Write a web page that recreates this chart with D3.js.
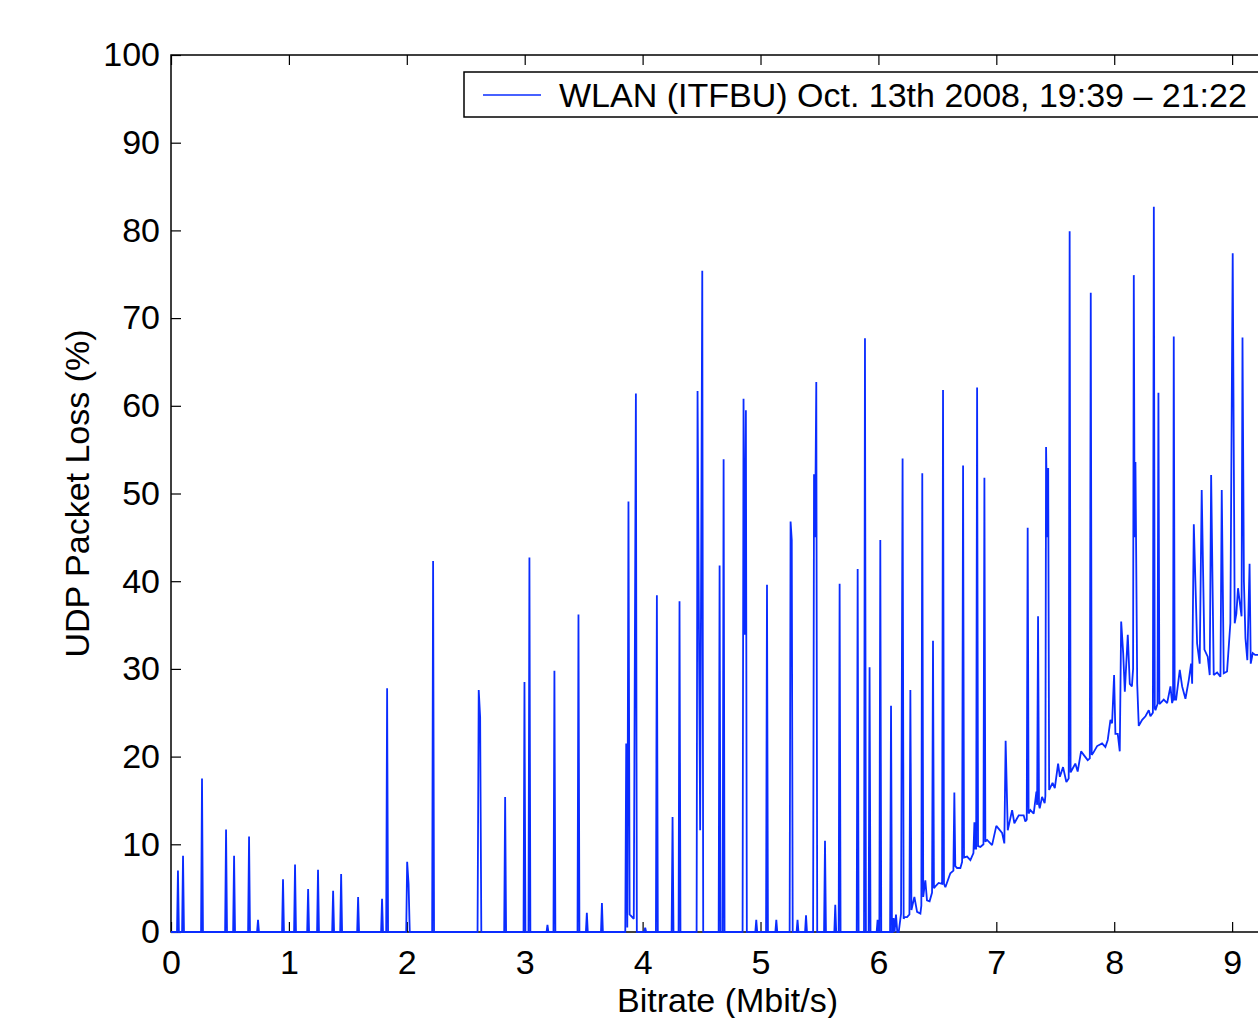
<!DOCTYPE html>
<html lang="en">
<head>
<meta charset="utf-8" />
<title>UDP Packet Loss vs Bitrate – WLAN (ITFBU)</title>
<style>
  body{margin:0;background:#fff;}
  svg{display:block;font-family:"Liberation Sans",Arial,Helvetica,sans-serif;}
  .tick text{font-size:34px;fill:#000;}
  .tick line{stroke:#000;stroke-width:1.2;}
  .axis-title{font-size:34px;fill:#000;}
  .legend-text{font-size:34px;fill:#000;}
</style>
<script src="https://cdn.jsdelivr.net/npm/d3@7.9.0/dist/d3.min.js"></script>
</head>
<body>
<div id="chart"></div>
<script>
/* ───────── DATA ───────── */
const xTicks = [0,1,2,3,4,5,6,7,8,9];
const yTicks = [0,10,20,30,40,50,60,70,80,90,100];
const xTitle = 'Bitrate (Mbit/s)';
const yTitle = 'UDP Packet Loss (%)';
const seriesLabel = 'WLAN (ITFBU) Oct. 13th 2008, 19:39 \u2013 21:22';

// [bitrate Mbit/s, packet loss %]
const trace = [
  [0,0],
  [0.051,0],[0.059,7.0],[0.067,0],
  [0.094,0],[0.102,8.7],[0.110,0],
  [0.255,0],[0.263,17.5],[0.271,0],
  [0.459,0],[0.467,11.7],[0.475,0],
  [0.527,0],[0.535,8.7],[0.543,0],
  [0.654,0],[0.662,10.9],[0.670,0],
  [0.730,0],[0.738,1.4],[0.746,0],
  [0.942,0],[0.950,6.0],[0.958,0],
  [1.044,0],[1.052,7.7],[1.060,0],
  [1.155,0],[1.163,4.9],[1.171,0],
  [1.239,0],[1.247,7.1],[1.255,0],
  [1.367,0],[1.375,4.7],[1.383,0],
  [1.435,0],[1.443,6.6],[1.451,0],
  [1.579,0],[1.587,4.0],[1.595,0],
  [1.782,0],[1.790,3.8],[1.798,0],
  [1.825,0],[1.833,27.8],[1.841,0],
  [1.995,0],[2.003,8.0],[2.015,5.5],[2.025,0],
  [2.215,0],[2.223,42.3],[2.231,0],
  [2.600,0],[2.610,27.6],[2.622,24.5],[2.632,0],
  [2.826,0],[2.834,15.4],[2.842,0],
  [2.990,0],[2.998,28.5],[3.006,0],
  [3.032,0],[3.040,42.7],[3.048,0],
  [3.185,0],[3.193,0.8],[3.201,0],
  [3.244,0],[3.252,29.8],[3.260,0],
  [3.448,0],[3.456,36.2],[3.464,0],
  [3.519,0],[3.527,2.2],[3.535,0],
  [3.647,0],[3.655,3.3],[3.663,0],
  [3.853,0],[3.861,21.5],[3.870,0.5],[3.880,49.1],[3.890,2.0],[3.925,1.5],[3.943,61.4],[3.951,0],
  [4.014,0],[4.022,0.5],[4.030,0],
  [4.113,0],[4.121,38.4],[4.129,0],
  [4.246,0],[4.254,13.1],[4.262,0],
  [4.305,0],[4.313,37.7],[4.321,0],
  [4.458,0],[4.466,61.7],[4.488,11.6],[4.506,75.4],[4.514,0],
  [4.645,0],[4.653,41.8],[4.661,0],
  [4.679,0],[4.687,53.9],[4.695,0],
  [4.848,0],[4.856,60.8],[4.865,33.9],[4.876,59.5],[4.884,0],
  [4.956,0],[4.964,1.4],[4.972,0],
  [5.047,0],[5.055,39.6],[5.063,0],
  [5.126,0],[5.134,1.4],[5.142,0],
  [5.247,0],[5.255,46.8],[5.265,44.7],[5.273,0],
  [5.306,0],[5.314,1.4],[5.322,0],
  [5.378,0],[5.386,1.9],[5.394,0],
  [5.446,0],[5.454,52.2],[5.463,45.0],[5.473,62.7],[5.481,0],
  [5.539,0],[5.547,10.4],[5.555,0],
  [5.626,0],[5.634,3.1],[5.642,0],
  [5.663,0],[5.671,39.7],[5.679,0],
  [5.816,0],[5.824,41.4],[5.832,0],
  [5.878,0],[5.886,67.7],[5.894,0],
  [5.917,0],[5.925,30.2],[5.933,0],
  [5.985,0],[5.993,1.4],[6.001,0],
  [6.008,0],[6.016,44.7],[6.024,0],
  [6.099,0],[6.107,25.8],[6.115,0],
  [6.121,0],[6.129,1.6],[6.137,0],[6.149,2.0],[6.160,0],
  [6.172,0],[6.192,2.1],[6.205,54.0],[6.214,1.5],[6.221,1.7],[6.243,1.7],[6.263,2.0],
  [6.271,27.6],[6.280,2.5],[6.305,4.0],[6.328,2.3],[6.356,2.1],[6.364,3.0],[6.372,52.3],
  [6.380,4.0],[6.398,5.9],[6.412,3.6],[6.434,3.5],[6.455,4.5],[6.463,33.2],[6.471,5.0],
  [6.483,5.2],[6.511,5.6],[6.540,5.5],[6.548,61.8],[6.556,5.5],[6.568,5.1],[6.610,6.7],
  [6.636,7.0],[6.644,15.9],[6.652,7.5],[6.667,7.3],[6.695,7.3],[6.710,8.0],[6.718,53.2],
  [6.726,8.5],[6.752,8.6],[6.780,8.2],[6.806,9.0],[6.814,12.5],[6.822,9.5],[6.829,9.5],
  [6.837,62.1],[6.845,9.8],[6.865,9.7],[6.891,10.0],[6.899,51.8],[6.907,10.3],[6.922,10.5],
  [6.964,9.9],[7.000,12.1],[7.049,11.3],[7.068,10.1],[7.079,21.8],[7.097,11.6],[7.134,13.9],
  [7.153,12.4],[7.190,13.3],[7.232,13.3],[7.246,12.6],[7.258,12.8],[7.266,46.1],[7.274,13.5],
  [7.289,13.9],[7.317,13.5],[7.340,16.0],[7.346,14.5],[7.354,36.0],[7.362,14.5],[7.368,14.1],
  [7.388,15.4],[7.410,14.7],[7.416,15.5],[7.422,55.3],[7.433,45.0],[7.440,52.9],[7.448,16.2],
  [7.477,17.0],[7.496,16.4],[7.524,19.2],[7.539,17.7],[7.566,18.8],[7.594,17.1],[7.614,17.5],
  [7.622,79.9],[7.630,18.2],[7.642,18.5],[7.670,19.2],[7.690,18.3],[7.719,20.6],[7.741,20.2],
  [7.775,19.6],[7.793,19.8],[7.801,72.9],[7.809,20.2],[7.821,20.4],[7.855,21.2],[7.897,21.5],
  [7.925,21.1],[7.945,21.9],[7.968,24.2],[7.982,23.8],[7.999,29.3],[8.010,22.6],[8.030,22.6],
  [8.047,20.6],[8.059,35.4],[8.076,31.8],[8.090,27.4],[8.115,33.9],[8.132,28.3],[8.150,28.0],
  [8.160,30.0],[8.166,74.9],[8.173,45.0],[8.180,53.6],[8.195,28.3],[8.208,23.5],[8.237,24.2],
  [8.265,24.6],[8.293,25.3],[8.307,24.6],[8.328,25.0],[8.336,82.7],[8.344,25.5],[8.350,25.3],
  [8.367,26.0],[8.375,61.5],[8.383,26.0],[8.392,26.1],[8.420,26.5],[8.449,26.1],[8.477,28.0],
  [8.491,26.1],[8.499,26.5],[8.505,67.9],[8.513,26.5],[8.525,26.5],[8.556,29.9],[8.576,28.0],
  [8.604,26.6],[8.632,28.7],[8.652,30.6],[8.661,28.3],[8.675,46.5],[8.703,32.9],[8.725,30.6],
  [8.742,50.4],[8.765,32.2],[8.793,31.4],[8.810,29.3],[8.822,52.1],[8.844,29.3],[8.873,29.6],
  [8.901,29.1],[8.912,50.4],[8.929,29.5],[8.957,29.7],[8.985,35.2],[9.005,77.4],[9.022,35.2],
  [9.036,36.3],[9.050,39.2],[9.062,37.9],[9.080,36.0],[9.088,67.8],[9.100,40.0],[9.113,33.5],
  [9.129,31.0],[9.148,42.0],[9.158,30.6],[9.175,31.8],[9.195,31.6],[9.230,31.6],[9.300,31.5],
  [9.400,31.8]
];

/* ───────── LAYOUT ───────── */
const W = 1258, H = 1018;
const M = {top:55, left:171, bottom:932, right:1284};   // axes box in px (right edge is cropped)

const svg = d3.select('#chart').append('svg')
  .attr('width',W).attr('height',H)
  .attr('viewBox',[0,0,W,H]);

const x = d3.scaleLinear().domain([0,9.44]).range([M.left,M.right]);
const y = d3.scaleLinear().domain([0,100]).range([M.bottom,M.top]);

/* axes – MATLAB style: ticks point inward on all sides */
svg.append('g')
  .attr('transform',`translate(0,${M.bottom})`)
  .call(d3.axisBottom(x).tickValues(xTicks).tickSizeInner(-10).tickSizeOuter(0).tickPadding(18))
  .call(g=>g.select('.domain').remove())
  .call(g=>g.selectAll('text').attr('font-family',null).attr('font-size',null));

svg.append('g')
  .attr('transform',`translate(0,${M.top})`)
  .call(d3.axisTop(x).tickValues(xTicks).tickSizeInner(-10).tickSizeOuter(0).tickFormat(''))
  .call(g=>g.select('.domain').remove());

svg.append('g')
  .attr('transform',`translate(${M.left},0)`)
  .call(d3.axisLeft(y).tickValues(yTicks).tickSizeInner(-10).tickSizeOuter(0).tickPadding(11))
  .call(g=>g.select('.domain').remove())
  .call(g=>g.selectAll('text').attr('font-family',null).attr('font-size',null));

svg.append('g')
  .attr('transform',`translate(${M.right},0)`)
  .call(d3.axisRight(y).tickValues(yTicks).tickSizeInner(-10).tickSizeOuter(0).tickFormat(''))
  .call(g=>g.select('.domain').remove());

svg.selectAll('.tick line').attr('stroke','#000').attr('stroke-width',1.2);
svg.selectAll('.tick text').attr('fill','#000');

/* axes box */
svg.append('rect')
  .attr('x',M.left).attr('y',M.top)
  .attr('width',M.right-M.left).attr('height',M.bottom-M.top)
  .attr('fill','none').attr('stroke','#000').attr('stroke-width',1.5);

/* the trace */
const line = d3.line().x(d=>x(d[0])).y(d=>y(d[1]));
svg.append('path')
  .datum(trace)
  .attr('d',line)
  .attr('fill','none')
  .attr('stroke','#0a2cff')
  .attr('stroke-width',1.8)
  .attr('stroke-linejoin','miter')
  .attr('stroke-miterlimit',2);

/* axis titles */
svg.append('text').attr('class','axis-title')
  .attr('x',(M.left+M.right)/2).attr('y',1012)
  .attr('text-anchor','middle').text(xTitle);

svg.append('text').attr('class','axis-title')
  .attr('transform',`translate(89,${(M.top+M.bottom)/2}) rotate(-90)`)
  .attr('text-anchor','middle').text(yTitle);

/* legend */
const lg = svg.append('g');
lg.append('rect')
  .attr('x',464).attr('y',72).attr('width',808).attr('height',45)
  .attr('fill','#fff').attr('stroke','#000').attr('stroke-width',1.5);
lg.append('line')
  .attr('x1',483).attr('x2',541).attr('y1',95).attr('y2',95)
  .attr('stroke','#0a2cff').attr('stroke-width',1.4);
lg.append('text').attr('class','legend-text')
  .attr('x',559).attr('y',107).text(seriesLabel);
</script>
</body>
</html>
